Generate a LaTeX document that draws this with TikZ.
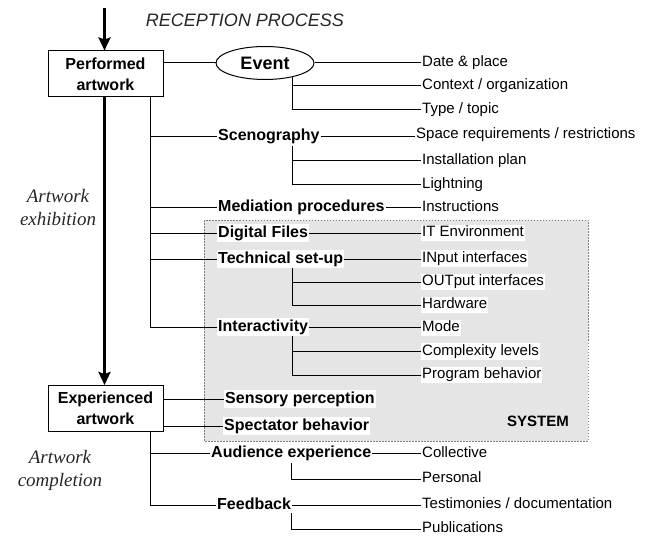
\documentclass[tikz,border=0pt]{standalone}
\usepackage{fontspec}
\setmainfont{Liberation Sans}
\newfontfamily\serifit{Liberation Serif}
\usetikzlibrary{arrows.meta,shapes.geometric}
\tikzset{
  lab/.style={font=\fontsize{15}{17}\selectfont, anchor=west, inner sep=1pt, fill=white, text height=11pt, text depth=3.5pt},
  cat/.style={font=\bfseries\fontsize{16}{18}\selectfont, anchor=west, inner sep=1pt, fill=white, text height=12pt, text depth=4pt},
  box/.style={draw, line width=1pt, fill=white, minimum width=115pt, minimum height=46pt, align=center, font=\bfseries\fontsize{16}{21}\selectfont},
  conn/.style={line width=1pt},
  big/.style={line width=2.8pt, -{Stealth[length=13pt,width=12pt,inset=2pt]}},
  sysbox/.style={draw=gray, fill=gray!20, line width=0.8pt, dash pattern=on 1.5pt off 1.5pt},
  note/.style={font=\serifit\itshape\fontsize{19}{23}\selectfont, align=center, text=black!85},
}
\begin{document}
\begin{tikzpicture}[x=1pt,y=-1pt]
\useasboundingbox (0,0) rectangle (650,540);
% system area
\path[sysbox] (204,220) rectangle (588,441);
\node[font=\bfseries\fontsize{15}{17}\selectfont] (sys) at (538,421) {SYSTEM};
% title
\node[font=\itshape\fontsize{18}{20}\selectfont, text=black!85] (title) at (245,20) {RECEPTION PROCESS};
% main boxes
\node[box] (pa) at (105.5,74) {Performed\\artwork};
\node[box] (ea) at (105.5,408.5) {Experienced\\artwork};
\coordinate (top) at (104.5,8);
\draw[big] (top) -- (top |- pa.north);
\draw[big] (pa.south -| top) -- (ea.north -| top);
% notes
\node[note] (n1) at (58,208) {Artwork\\exhibition};
\node[note] (n2) at (60,470) {Artwork\\completion};
% event
\node[draw, ellipse, line width=1pt, minimum width=98pt, minimum height=33pt, inner sep=0pt, fill=white, font=\bfseries\fontsize{18}{20}\selectfont] (ev) at (265,63) {Event};
% categories
\node[cat] (sceno) at (217,137) {Scenography};
\node[cat] (med) at (217,207.5) {Mediation procedures};
\node[cat] (dig) at (217,233) {Digital Files};
\node[cat] (tech) at (217,259) {Technical set-up};
\node[cat] (inter) at (217,327) {Interactivity};
\node[cat] (sens) at (224,399) {Sensory perception};
\node[cat] (spec) at (223,426) {Spectator behavior};
\node[cat] (aud) at (210,453.5) {Audience experience};
\node[cat] (fb) at (216,505) {Feedback};
% leaves
\node[lab] (date) at (421,62.5) {Date \& place};
\node[lab] (ctx) at (421,85.5) {Context / organization};
\node[lab] (type) at (421,109.5) {Type / topic};
\node[lab] (space) at (415,135) {Space requirements / restrictions};
\node[lab] (inst) at (421,160.5) {Installation plan};
\node[lab] (light) at (421,184.5) {Lightning};
\node[lab] (instr) at (421,208) {Instructions};
\node[lab] (it) at (421,233) {IT Environment};
\node[lab] (inp) at (421,258.5) {INput interfaces};
\node[lab] (outp) at (421,282) {OUTput interfaces};
\node[lab] (hw) at (421,305) {Hardware};
\node[lab] (mode) at (421,328) {Mode};
\node[lab] (cplx) at (421,351.5) {Complexity levels};
\node[lab] (prog) at (421,375) {Program behavior};
\node[lab] (coll) at (421,454) {Collective};
\node[lab] (pers) at (421,479) {Personal};
\node[lab] (test) at (421,504.5) {Testimonies / documentation};
\node[lab] (pub) at (421,529) {Publications};
% connectors: performed artwork
\draw[conn] (pa.east |- ev.west) -- (ev.west);
\draw[conn] (ev.east) -- (ev.east -| date.west);
\coordinate (evb) at (292,77);
\draw[conn] (evb) |- (type.west);
\draw[conn] (evb |- ctx.west) -- (ctx.west);
\coordinate (t1) at (150,97);
\draw[conn] (t1) |- (inter.west);
\draw[conn] (t1 |- sceno.west) -- (sceno.west);
\draw[conn] (t1 |- med.west) -- (med.west);
\draw[conn] (t1 |- dig.west) -- (dig.west);
\draw[conn] (t1 |- tech.west) -- (tech.west);
% scenography
\draw[conn] (sceno.east) -- (sceno.east -| space.west);
\coordinate (sc) at (292,146);
\draw[conn] (sc) |- (light.west);
\draw[conn] (sc |- inst.west) -- (inst.west);
% mediation, digital
\draw[conn] (med.east) -- (med.east -| instr.west);
\draw[conn] (dig.east) -- (dig.east -| it.west);
% technical
\draw[conn] (tech.east) -- (tech.east -| inp.west);
\coordinate (tc) at (292,268);
\draw[conn] (tc) |- (hw.west);
\draw[conn] (tc |- outp.west) -- (outp.west);
% interactivity
\draw[conn] (inter.east) -- (inter.east -| mode.west);
\coordinate (ic) at (292,336);
\draw[conn] (ic) |- (prog.west);
\draw[conn] (ic |- cplx.west) -- (cplx.west);
% experienced artwork
\draw[conn] (ea.east |- sens.west) -- (sens.west);
\draw[conn] (ea.east |- spec.west) -- (spec.west);
\coordinate (t2) at (150,432);
\draw[conn] (t2) |- (fb.west);
\draw[conn] (t2 |- aud.west) -- (aud.west);
\draw[conn] (aud.east) -- (aud.east -| coll.west);
\coordinate (ac) at (291,463);
\draw[conn] (ac) |- (pers.west);
\draw[conn] (fb.east) -- (fb.east -| test.west);
\coordinate (fc) at (291,513);
\draw[conn] (fc) |- (pub.west);
\end{tikzpicture}
\end{document}
